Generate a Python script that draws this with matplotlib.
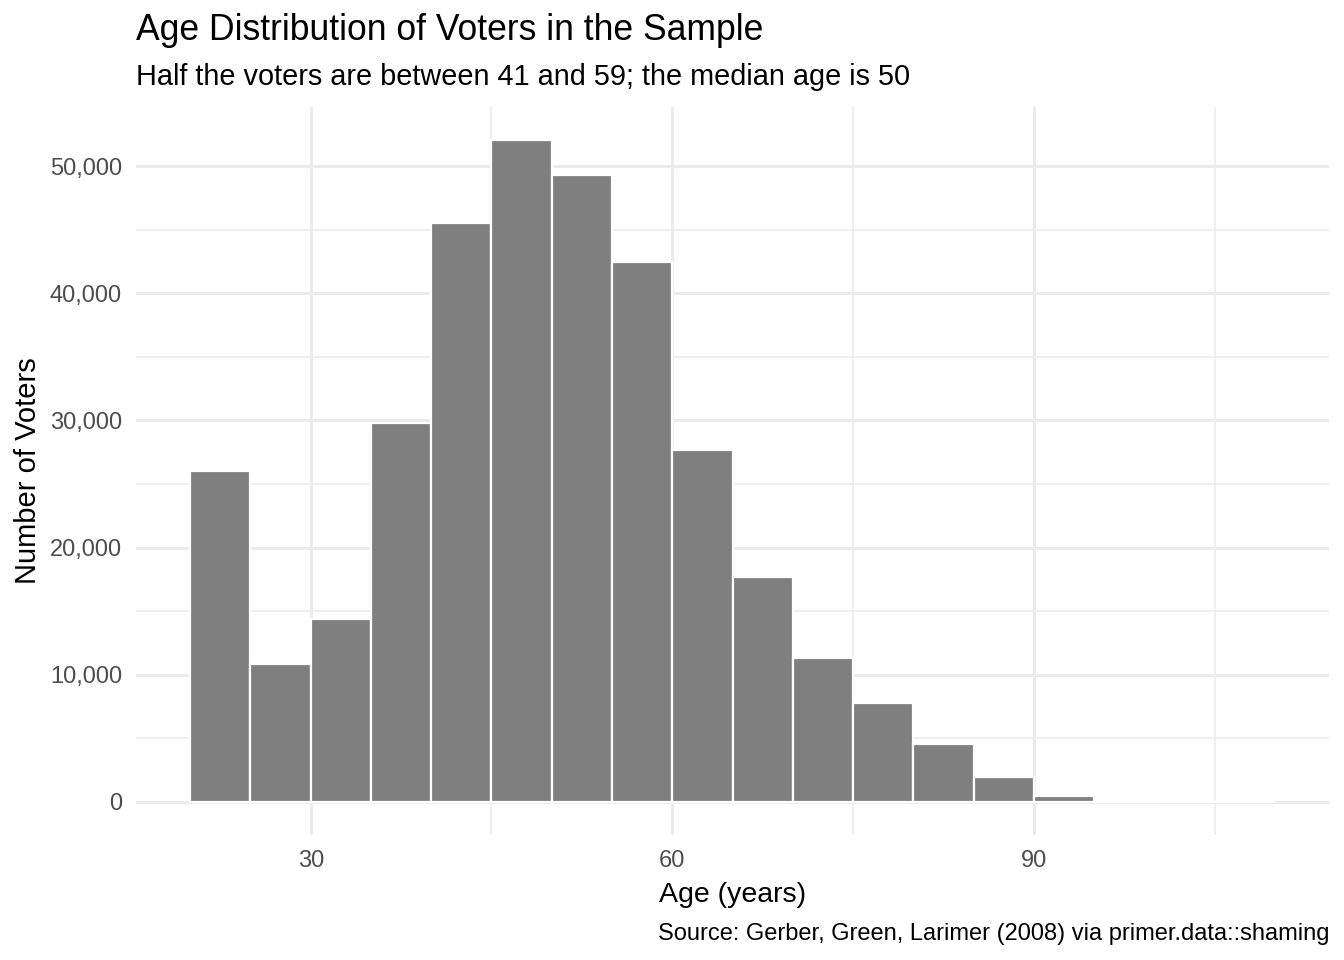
import numpy as np
import matplotlib
matplotlib.use("Agg")
import matplotlib.pyplot as plt
from matplotlib.ticker import FuncFormatter, MultipleLocator

plt.rcParams['font.family'] = ['Liberation Sans', 'DejaVu Sans']

# histogram bins, 5 years wide
bin_edges = [20, 25, 30, 35, 40, 45, 50, 55, 60, 65, 70, 75, 80, 85, 90, 95, 100, 105, 110]
counts = [26000, 10850, 14400, 29800, 45500, 52050, 49300, 42450, 27700,
          17700, 11300, 7800, 4550, 1950, 480, 40, 10, 5]

x_ticks = [30, 60, 90]
y_ticks = [0, 10000, 20000, 30000, 40000, 50000]

W, H = 1344, 960
fig = plt.figure(figsize=(W / 100, H / 100), dpi=100)
left, right, top, bottom = 136, 1329, 107, 835
ax = fig.add_axes([left / W, 1 - bottom / H, (right - left) / W, (bottom - top) / H])

grid_col = '#EBEBEB'
ax.set_axisbelow(True)
ax.xaxis.set_minor_locator(MultipleLocator(15))
ax.yaxis.set_minor_locator(MultipleLocator(5000))
ax.grid(which='major', color=grid_col, linewidth=2.2)
ax.grid(which='minor', color=grid_col, linewidth=1.1)

lefts = np.array(bin_edges[:-1])
widths = np.diff(bin_edges)
ax.bar(lefts, counts, width=widths, align='edge', color='#7F7F7F',
       edgecolor='white', linewidth=1.6)

span = bin_edges[-1] - bin_edges[0]
ax.set_xlim(bin_edges[0] - 0.05 * span, bin_edges[-1] + 0.05 * span)
ymax = max(counts)
ax.set_ylim(-0.05 * ymax, 1.05 * ymax)

ax.set_xticks(x_ticks)
ax.set_yticks(y_ticks)
ax.yaxis.set_major_formatter(FuncFormatter(lambda v, p: f"{int(v):,}"))
ax.tick_params(which='both', length=0, labelsize=17, labelcolor='#4D4D4D')
ax.tick_params(axis='x', pad=11)
ax.tick_params(axis='y', pad=10)
for s in ax.spines.values():
    s.set_visible(False)

ax.set_xlabel("Age (years)", fontsize=20.5, labelpad=7)
ax.set_ylabel("Number of Voters", fontsize=21, labelpad=5.5)

fig.text(left / W, 1 - 40 / H, "Age Distribution of Voters in the Sample",
         fontsize=25.6, ha='left', va='baseline')
fig.text(left / W, 1 - 85 / H, "Half the voters are between 41 and 59; the median age is 50",
         fontsize=20.8, ha='left', va='baseline')
fig.text(right / W, 1 - 940 / H, "Source: Gerber, Green, Larimer (2008) via primer.data::shaming",
         fontsize=17, ha='right', va='baseline')

fig.savefig("out.png", dpi=100, facecolor='white')
